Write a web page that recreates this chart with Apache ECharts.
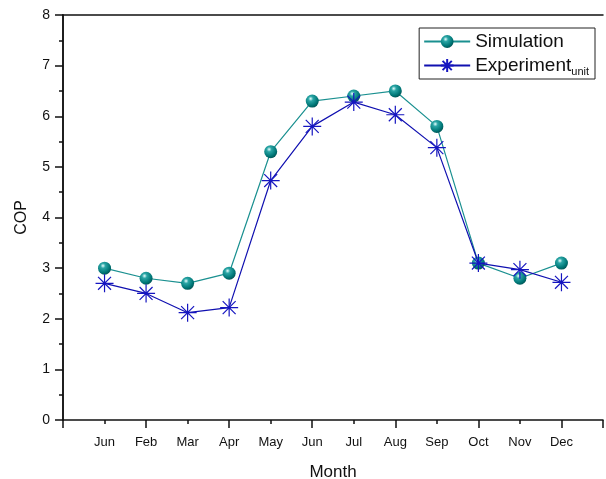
<!DOCTYPE html>
<html><head><meta charset="utf-8">
<script src="https://cdn.jsdelivr.net/npm/echarts@6/dist/echarts.min.js"></script>
<style>html,body{margin:0;padding:0;background:#fff}#c{width:606px;height:479px}</style>
</head><body><div id="c"></div>
<script>
const months = ['Jun','Feb','Mar','Apr','May','Jun','Jul','Aug','Sep','Oct','Nov','Dec'];
const simulation = [3.0,2.8,2.7,2.9,5.3,6.3,6.4,6.5,5.8,3.1,2.8,3.1];
const experiment = [2.7,2.5,2.12,2.22,4.73,5.8,6.28,6.03,5.38,3.1,2.97,2.72];
const yTicks = [0,1,2,3,4,5,6,7,8];

const chart = echarts.init(document.getElementById('c'), null, {renderer:'canvas'});
const font = 'Liberation Sans, Arial, sans-serif';
const sphere = {type:'radial', x:0.38, y:0.32, r:0.75, colorStops:[
  {offset:0, color:'#e8ffff'},{offset:0.25, color:'#2aa5a5'},{offset:0.7, color:'#007777'},{offset:1, color:'#004c4c'}]};
const star = 'path://M0 -1 L0 1 M-1 0 L1 0 M-0.72 -0.72 L0.72 0.72 M-0.72 0.72 L0.72 -0.72';

chart.setOption({
  animation:false,
  textStyle:{fontFamily:font},
  grid:{left:63, right:3, top:15, bottom:59, containLabel:false, outerBoundsMode:'none'},
  legend:{
    right:11, top:28, orient:'vertical',
    data:['Simulation','Experiment'],
    itemWidth:46, itemHeight:16, itemGap:3,
    borderColor:'#222', borderWidth:1, borderRadius:0,
    padding:[4,6,2,4],
    textStyle:{fontFamily:font, fontSize:19, color:'#111',
      rich:{a:{fontSize:19, fontFamily:font, color:'#111', lineHeight:21},
            s:{fontSize:11, fontFamily:font, color:'#111', lineHeight:21, padding:[12,0,0,0]}}},
    formatter:n => n==='Experiment' ? '{a|Experiment}{s|unit}' : '{a|Simulation}'
  },
  xAxis:[
    {type:'value', min:0, max:13, interval:1, position:'bottom',
     axisLine:{lineStyle:{color:'#111', width:1.5}},
     axisTick:{length:4, lineStyle:{color:'#111', width:1.5}},
     axisLabel:{margin:16, fontSize:13, color:'#111', fontFamily:font,
       formatter:v => (v>=1 && v<=12) ? months[v-1] : ''},
     splitLine:{show:false},
     name:'Month', nameLocation:'middle', nameGap:44,
     nameTextStyle:{fontSize:17, color:'#111', fontFamily:font}},
    {type:'value', min:0, max:13, interval:2, position:'bottom', gridIndex:0,
     axisLine:{show:false},
     axisTick:{length:8, lineStyle:{color:'#111', width:1.5}},
     axisLabel:{show:false}, splitLine:{show:false}},
    {type:'value', min:0, max:13, interval:2, position:'top',
     axisLine:{lineStyle:{color:'#111', width:1.5}},
     axisTick:{show:false},
     axisLabel:{show:false}, splitLine:{show:false}}
  ],
  yAxis:[
    {type:'value', min:0, max:8, interval:1, position:'left',
     axisLine:{show:true, lineStyle:{color:'#111', width:1.5}},
     axisTick:{show:true, length:8, lineStyle:{color:'#111', width:1.5}},
     minorTick:{show:true, splitNumber:2, length:4, lineStyle:{color:'#111', width:1.5}},
     axisLabel:{margin:13, fontSize:14, color:'#111', fontFamily:font,
       formatter:v => yTicks.includes(v) ? String(v) : ''},
     splitLine:{show:false},
     name:'COP', nameLocation:'middle', nameGap:33, nameRotate:90,
     nameTextStyle:{fontSize:16, color:'#111', fontFamily:font}},
    {type:'value', min:0, max:8, interval:1, position:'right',
     axisLine:{show:true, lineStyle:{color:'#111', width:1.5}},
     axisTick:{show:true, inside:true, length:5, lineStyle:{color:'#111', width:1.5}},
     minorTick:{show:true, splitNumber:2, length:3, lineStyle:{color:'#111', width:1.5}},
     axisLabel:{show:false}, splitLine:{show:false}}
  ],
  series:[
    {name:'Simulation', type:'line', xAxisIndex:0, yAxisIndex:0,
     data:months.map((m,i)=>[i+1, simulation[i]]),
     symbol:'circle', symbolSize:13,
     lineStyle:{color:'#1a9090', width:1.2},
     itemStyle:{color:sphere, borderWidth:0}, z:2},
    {name:'Experiment', type:'line', xAxisIndex:0, yAxisIndex:0,
     data:months.map((m,i)=>[i+1, experiment[i]]),
     symbol:star, symbolSize:18,
     lineStyle:{color:'#1010b0', width:1.2},
     itemStyle:{color:'none', borderColor:'#1515c0', borderWidth:1.2}, z:3}
  ]
});
</script></body></html>
